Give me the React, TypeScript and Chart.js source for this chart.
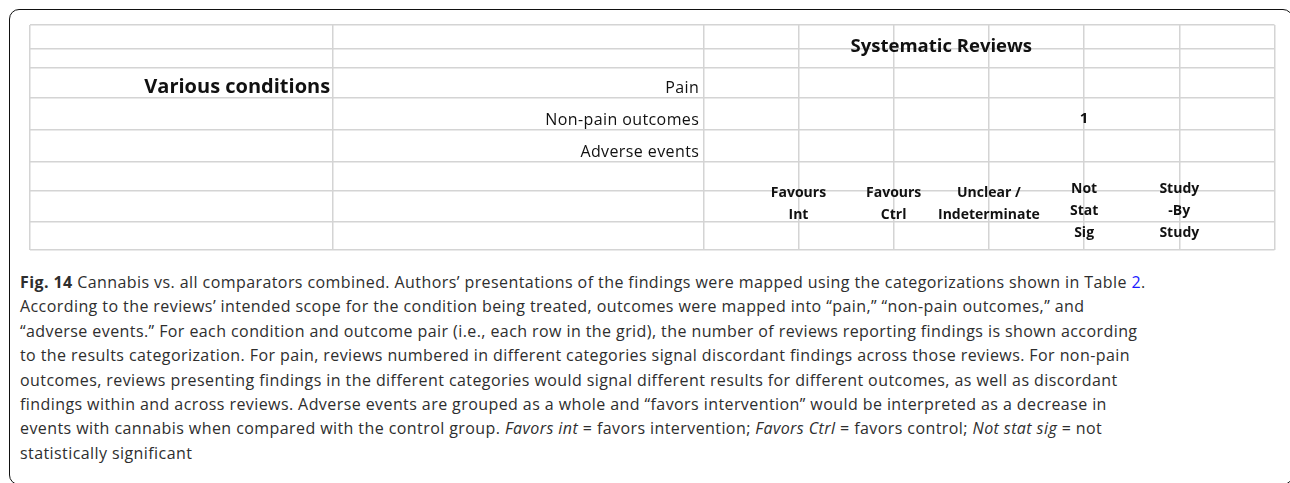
import React, { useEffect, useRef } from 'react';
import { Chart, registerables } from 'chart.js';

Chart.register(...registerables);

// ---- data ----
const conditionLabel = 'Various conditions';
const headerLabel = 'Systematic Reviews';
const outcomes = ['Pain', 'Non-pain outcomes', 'Adverse events'];
const resultCategories = [
  ['Favours', 'Int'],
  ['Favours', 'Ctrl'],
  ['Unclear /', 'Indeterminate'],
  ['Not', 'Stat', 'Sig'],
  ['Study', '-By', 'Study'],
];
const reviewCounts = [
  [0, 0, 0, 0, 0],
  [0, 0, 0, 1, 0],
  [0, 0, 0, 0, 0],
];

// ---- layout (grid edges in scale units) ----
const X_EDGES = [-7.077, -3.888, 0, 1, 2, 3, 4, 5, 6];
const Y_EDGES = [0, 24, 43, 73, 105, 137, 166, 197, 225];
const OUTCOME_ROW0 = 2;
const LABEL_ROW = 6;

const TEXT = '#111';
const GRID = '#d4d4d4';
const FONT = '"Open Sans"';

const tablePlugin = {
  id: 'tableText',
  afterDraw(chart: any) {
    const { ctx } = chart;
    const x = chart.scales.x;
    const y = chart.scales.y;
    ctx.save();
    ctx.fillStyle = TEXT;
    ctx.textBaseline = 'alphabetic';

    // condition label
    ctx.font = `bold 20px ${FONT}`;
    ctx.textAlign = 'right';
    ctx.fillText(conditionLabel, x.getPixelForValue(X_EDGES[1]) - 3, y.getPixelForValue(Y_EDGES[OUTCOME_ROW0 + 1]) - 5);

    // outcomes
    ctx.font = `16px ${FONT}`;
    (ctx as any).letterSpacing = '0.4px';
    outcomes.forEach((o, i) => {
      ctx.fillText(o, x.getPixelForValue(0) - 4, y.getPixelForValue(Y_EDGES[OUTCOME_ROW0 + i + 1]) - 5);
    });
    (ctx as any).letterSpacing = '0px';

    // header
    ctx.font = `bold 18.5px ${FONT}`;
    ctx.textAlign = 'center';
    ctx.fillText(headerLabel, x.getPixelForValue(2.5), y.getPixelForValue(Y_EDGES[1]) + 3);

    // category labels
    ctx.font = `bold 14px ${FONT}`;
    resultCategories.forEach((lines, i) => {
      const px = x.getPixelForValue(i + 1);
      const base = y.getPixelForValue(Y_EDGES[LABEL_ROW]) + 6 - 4 * (lines.length - 2);
      lines.forEach((l, k) => ctx.fillText(l, px, base + 22 * k));
    });

    // counts
    ctx.font = `bold 15px ${FONT}`;
    const meta = chart.getDatasetMeta(0);
    meta.data.forEach((pt: any, i: number) => {
      const raw = chart.data.datasets[0].data[i];
      ctx.fillText(String(raw.v), pt.x, pt.y);
    });
    ctx.restore();
  },
};

export default function App() {
  const ref = useRef<HTMLCanvasElement>(null);
  useEffect(() => {
    const points: any[] = [];
    reviewCounts.forEach((row, r) =>
      row.forEach((v, c) => {
        if (v > 0) points.push({ x: c + 1, y: Y_EDGES[OUTCOME_ROW0 + r + 1] - 7, v });
      })
    );
    const edgeTicks = (edges: number[]) => (s: any) => {
      s.ticks = edges.map((v) => ({ value: v }));
    };
    const chart = new Chart(ref.current as HTMLCanvasElement, {
      type: 'scatter',
      data: { datasets: [{ data: points, pointRadius: 0, showLine: false }] },
      options: {
        responsive: false,
        animation: false,
        layout: { padding: { left: 29.5, right: 15.5, top: 25, bottom: 10 } },
        plugins: { legend: { display: false }, tooltip: { enabled: false }, title: { display: false } },
        scales: {
          x: {
            type: 'linear',
            min: X_EDGES[0],
            max: X_EDGES[X_EDGES.length - 1],
            afterBuildTicks: edgeTicks(X_EDGES),
            ticks: { display: false },
            grid: { color: GRID, lineWidth: 1.5, drawTicks: false },
            border: { display: false },
          },
          y: {
            type: 'linear',
            reverse: true,
            min: Y_EDGES[0],
            max: Y_EDGES[Y_EDGES.length - 1],
            afterBuildTicks: edgeTicks(Y_EDGES),
            ticks: { display: false },
            grid: { color: GRID, lineWidth: 1.5, drawTicks: false },
            border: { display: false },
          },
        },
      } as any,
      plugins: [tablePlugin],
    });
    return () => chart.destroy();
  }, []);

  const it = (s: string) => <i>{s}</i>;
  return (
    <div style={{ position: 'fixed', left: 0, top: 0, width: 1290, height: 483, background: '#fff', overflow: 'hidden' }}>
      <div
        style={{
          position: 'absolute',
          left: 9,
          top: 9,
          width: 1284,
          height: 476,
          border: '1.5px solid #111',
          borderRadius: 10,
          boxSizing: 'border-box',
        }}
      />
      <canvas ref={ref} width={1290} height={260} style={{ position: 'absolute', left: 0, top: 0 }} />
      <div
        style={{
          position: 'absolute',
          left: 20,
          top: 270,
          fontFamily: '"Open Sans", sans-serif',
          fontSize: 16,
          letterSpacing: '0.42px',
          lineHeight: '24.4px',
          color: '#2e2e2e',
          whiteSpace: 'nowrap',
        }}
      >
        <div>
          <b>Fig. 14</b> Cannabis vs. all comparators combined. Authors’ presentations of the findings were mapped using the categorizations shown in Table <span style={{ color: '#1a1aff' }}>2</span>.
        </div>
        <div>According to the reviews’ intended scope for the condition being treated, outcomes were mapped into “pain,” “non-pain outcomes,” and</div>
        <div>“adverse events.” For each condition and outcome pair (i.e., each row in the grid), the number of reviews reporting findings is shown according</div>
        <div>to the results categorization. For pain, reviews numbered in different categories signal discordant findings across those reviews. For non-pain</div>
        <div>outcomes, reviews presenting findings in the different categories would signal different results for different outcomes, as well as discordant</div>
        <div>findings within and across reviews. Adverse events are grouped as a whole and “favors intervention” would be interpreted as a decrease in</div>
        <div>
          events with cannabis when compared with the control group. {it('Favors int')} = favors intervention; {it('Favors Ctrl')} = favors control; {it('Not stat sig')} = not
        </div>
        <div>statistically significant</div>
      </div>
    </div>
  );
}
